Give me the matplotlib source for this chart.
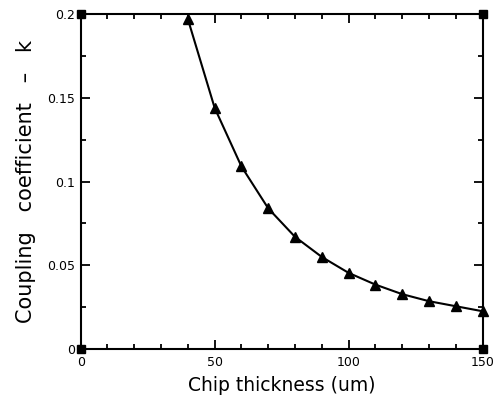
import matplotlib
matplotlib.use("Agg")
import matplotlib.pyplot as plt
from matplotlib.ticker import MultipleLocator

# chip thickness (um) and coupling coefficient
thickness = [40, 50, 60, 70, 80, 90, 100, 110, 120, 130, 140, 150]
coupling = [0.197, 0.144, 0.109, 0.084, 0.067, 0.055, 0.0455, 0.0385,
            0.0328, 0.0286, 0.0256, 0.0226]

x_limits = [0, 150]
y_limits = [0, 0.2]
x_ticks = [0, 50, 100, 150]
y_ticks = [0, 0.05, 0.1, 0.15, 0.2]
y_tick_labels = ["0", "0.05", "0.1", "0.15", "0.2"]

plt.rcParams.update({"font.family": "DejaVu Sans", "font.size": 9})

figure = plt.figure(figsize=(4.98, 3.99), dpi=100)
axis = figure.add_axes([0.162, 0.125, 0.807, 0.84])

axis.plot(thickness, coupling, color="black", linewidth=1.5,
          marker="^", markersize=7, markerfacecolor="black", clip_on=False, zorder=3)

# filled squares at the frame corners
corner_x = [x_limits[0], x_limits[1], x_limits[0], x_limits[1]]
corner_y = [y_limits[0], y_limits[0], y_limits[1], y_limits[1]]
axis.plot(corner_x, corner_y, linestyle="none", marker="s", markersize=5.5,
          color="black", clip_on=False, zorder=4)

axis.set_xlim(x_limits)
axis.set_ylim(y_limits)
axis.set_xticks(x_ticks)
axis.set_yticks(y_ticks)
axis.set_yticklabels(y_tick_labels)
axis.xaxis.set_minor_locator(MultipleLocator(10))
axis.yaxis.set_minor_locator(MultipleLocator(0.025))

axis.tick_params(which="both", direction="in", top=True, right=True, width=1.3)
axis.tick_params(axis="x", which="major", length=6.5, pad=5)
axis.tick_params(axis="y", which="major", length=6.5, pad=4)
axis.tick_params(which="minor", length=3.5)
for spine in axis.spines.values():
    spine.set_linewidth(1.5)

axis.set_xlabel("Chip thickness (um)", fontsize=13.5, labelpad=5)
axis.set_ylabel("Coupling   coefficient   \u2013   k", fontsize=15, labelpad=8)

figure.savefig("out.png", dpi=100)
